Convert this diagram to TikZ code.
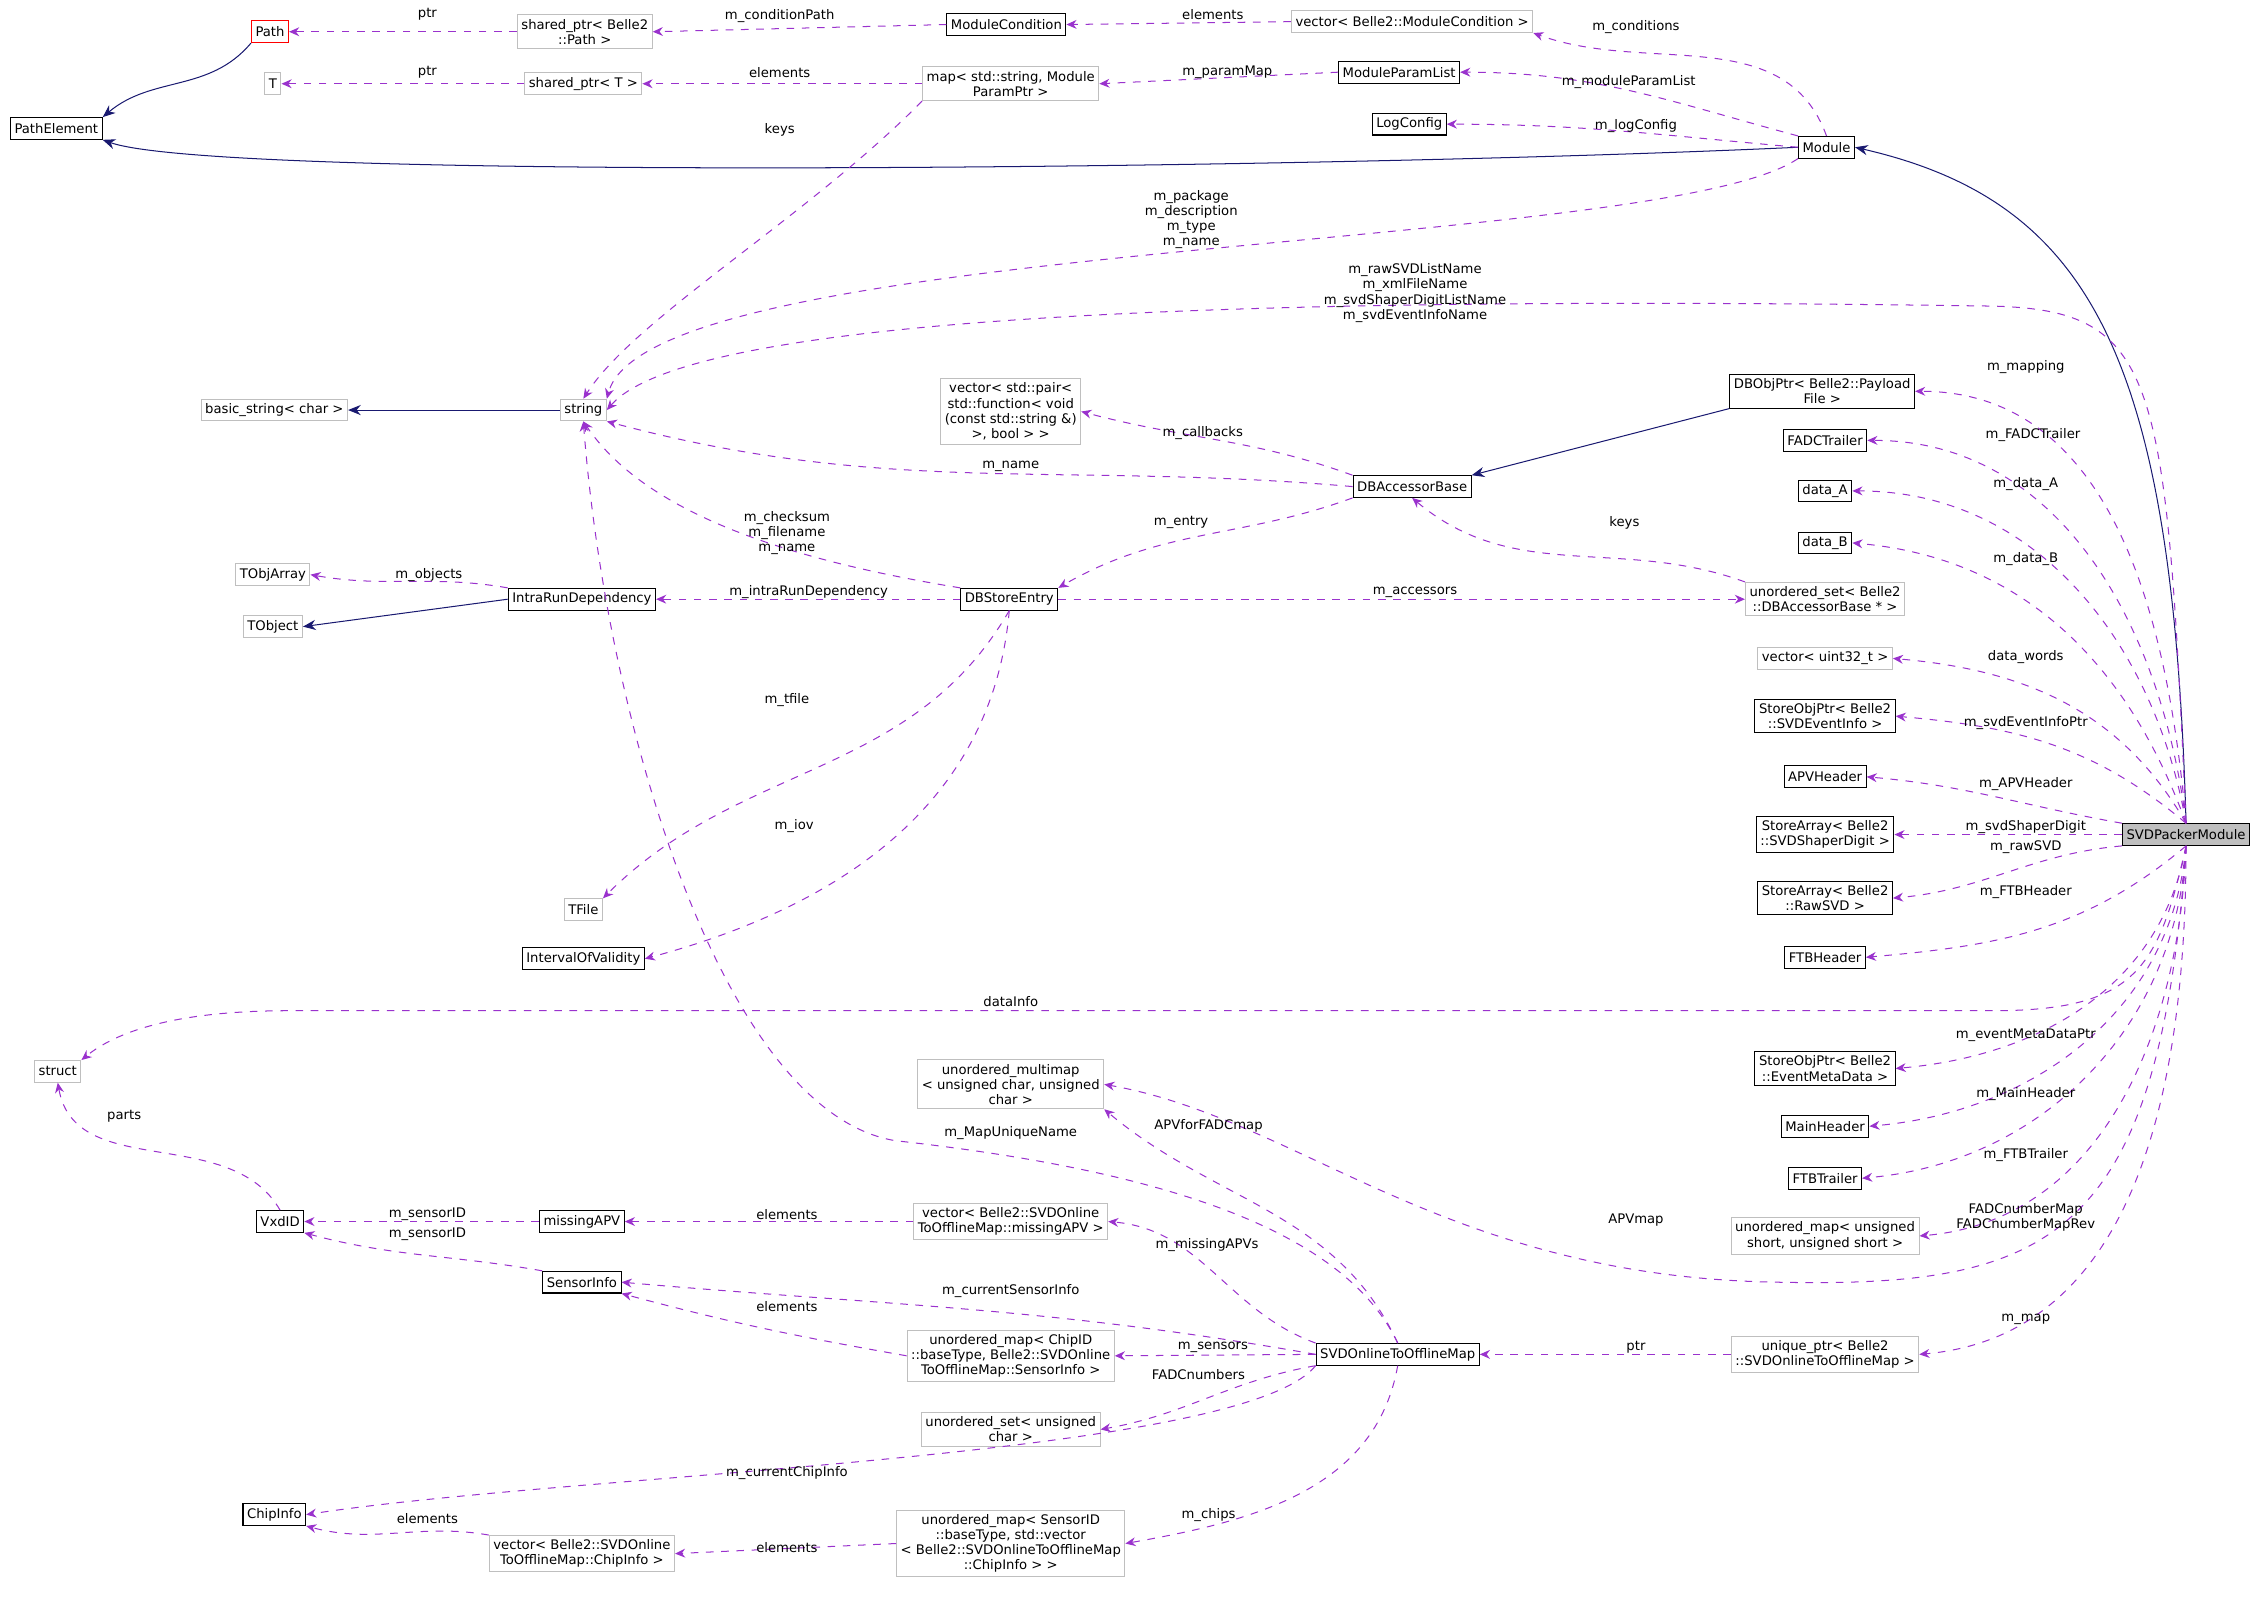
\documentclass[tikz,border=0pt]{standalone}
\usepackage{fontspec}
\setmainfont{DejaVu Sans}
\usetikzlibrary{arrows.meta}
\definecolor{usecol}{HTML}{9A32CD}
\definecolor{inhcol}{HTML}{191970}
\definecolor{undoc}{HTML}{BFBFBF}
\begin{document}
\begin{tikzpicture}[x=0.02cm,y=-0.02cm,font=\fontsize{5.2}{6}\selectfont]
% Styles
\tikzset{cls/.style={draw=black,thin,fill=white,inner sep=1.6pt,align=center,minimum height=0.3cm},
  ext/.style={cls,draw=undoc},
  red/.style={cls,draw=red},
  cur/.style={cls,fill=black!25},
  uses/.style={usecol,dashed,thin,-{Stealth[length=4pt,width=3.5pt]}},
  inh/.style={inhcol,thin,-{Stealth[length=5pt,width=4pt]}},
  lbl/.style={align=center,inner sep=0pt}}
\useasboundingbox (0,0) rectangle (1568,1111);
% Classes, left to right
\node[red] (Path) at (187,22) {Path};
\node[cls] (PathElement) at (39,89) {PathElement};
\node[ext] (T) at (189,58) {T};
\node[ext] (basicString) at (190,284) {basic\_string< char >};
\node[ext] (TObjArray) at (189,398) {TObjArray};
\node[ext] (TObject) at (189,434) {TObject};
\node[ext] (struct) at (40,742) {struct};
\node[cls] (VxdID) at (194,846) {VxdID};
\node[cls] (ChipInfo) at (190,1049) {ChipInfo};
\node[ext] (sharedPath) at (405,22) {shared\_ptr< Belle2\\::Path >};
\node[ext] (sharedT) at (404,58) {shared\_ptr< T >};
\node[ext] (string) at (404,284) {string};
\node[cls] (IntraRun) at (403,415) {IntraRunDependency};
\node[ext] (TFile) at (404,630) {TFile};
\node[cls] (IOV) at (404,664) {IntervalOfValidity};
\node[cls] (missingAPV) at (403,846) {missingAPV};
\node[cls] (SensorInfo) at (403,888) {SensorInfo};
\node[ext] (vecChip) at (403,1076) {vector< Belle2::SVDOnline\\ToOfflineMap::ChipInfo >};
\node[cls] (ModuleCondition) at (697,17) {ModuleCondition};
\node[ext] (paramMap) at (700,58) {map< std::string, Module\\ParamPtr >};
\node[ext] (vecPair) at (700,285) {vector< std::pair<\\std::function< void\\(const std::string \&)\\>, bool > >};
\node[cls] (DBStoreEntry) at (699,415) {DBStoreEntry};
\node[ext] (uMultimap) at (700,751) {unordered\_multimap\\< unsigned char, unsigned\\char >};
\node[ext] (vecMissing) at (700,846) {vector< Belle2::SVDOnline\\ToOfflineMap::missingAPV >};
\node[ext] (uMapChip) at (700,939) {unordered\_map< ChipID\\::baseType, Belle2::SVDOnline\\ToOfflineMap::SensorInfo >};
\node[ext] (uSetChar) at (700,990) {unordered\_set< unsigned\\char >};
\node[ext] (uMapSensor) at (700,1069) {unordered\_map< SensorID\\::baseType, std::vector\\< Belle2::SVDOnlineToOfflineMap\\::ChipInfo > >};
\node[ext] (vecModCond) at (978,15) {vector< Belle2::ModuleCondition >};
\node[cls] (ModuleParamList) at (969,50) {ModuleParamList};
\node[cls] (LogConfig) at (976,86) {LogConfig};
\node[cls] (DBAccessorBase) at (978,337) {DBAccessorBase};
\node[cls] (SVDOnline) at (968,938) {SVDOnlineToOfflineMap};
\node[cls] (Module) at (1265,102) {Module};
\node[cls] (DBObjPtr) at (1262,271) {DBObjPtr< Belle2::Payload\\File >};
\node[cls] (FADCTrailer) at (1264,305) {FADCTrailer};
\node[cls] (dataA) at (1264,340) {data\_A};
\node[cls] (dataB) at (1264,376) {data\_B};
\node[ext] (uSetAcc) at (1264,415) {unordered\_set< Belle2\\::DBAccessorBase * >};
\node[ext] (vecUint) at (1264,456) {vector< uint32\_t >};
\node[cls] (StoreObjSVD) at (1264,496) {StoreObjPtr< Belle2\\::SVDEventInfo >};
\node[cls] (APVHeader) at (1264,538) {APVHeader};
\node[cls] (StoreArrSSD) at (1264,578) {StoreArray< Belle2\\::SVDShaperDigit >};
\node[cls] (StoreArrRaw) at (1264,622) {StoreArray< Belle2\\::RawSVD >};
\node[cls] (FTBHeader) at (1264,663) {FTBHeader};
\node[cls] (StoreObjEMD) at (1264,740) {StoreObjPtr< Belle2\\::EventMetaData >};
\node[cls] (MainHeader) at (1264,780) {MainHeader};
\node[cls] (FTBTrailer) at (1264,816) {FTBTrailer};
\node[ext] (uMapShort) at (1264,856) {unordered\_map< unsigned\\short, unsigned short >};
\node[ext] (uniquePtr) at (1264,938) {unique\_ptr< Belle2\\::SVDOnlineToOfflineMap >};
\node[cls,cur] (SVDPacker) at (1514,578) {SVDPackerModule};
% Inheritance
\draw[inh] (Path.south west) to[out=-130,in=40] (PathElement.north east);
\draw[inh] (Module.west) .. controls (900,118) and (150,125) .. (PathElement.south east);
\draw[inh] (SVDPacker.north) .. controls (1505,250) and (1450,140) .. (Module.east);
\draw[inh] (string.west) -- (basicString.east);
\draw[inh] (DBObjPtr.south west) -- (DBAccessorBase.north east);
\draw[inh] (IntraRun.west) -- (TObject.east);
% Top rows
\draw[uses] (sharedPath.west) -- (Path.east);
\draw[uses] (ModuleCondition.west) -- (sharedPath.east);
\draw[uses] (vecModCond.west) -- (ModuleCondition.east);
\draw[uses] (Module.north) to[out=110,in=-20] (vecModCond.south east);
\draw[uses] (sharedT.west) -- (T.east);
\draw[uses] (paramMap.west) -- (sharedT.east);
\draw[uses] (ModuleParamList.west) -- (paramMap.east);
\draw[uses] (Module.north west) to[out=165,in=0] (ModuleParamList.east);
\draw[uses] (Module.west) to[out=175,in=0] (LogConfig.east);
\draw[uses] (paramMap.south west) .. controls (560,150) and (440,220) .. (string.north);
\draw[uses] (Module.south west) .. controls (1150,175) and (450,165) .. (string.north east);
\draw[uses] (SVDPacker.north) .. controls (1500,260) and (1495,215) .. (1380,212) .. controls (900,205) and (480,215) .. (string.east);
% DB classes
\draw[uses] (DBAccessorBase.north west) to[out=160,in=-15] (vecPair.east);
\draw[uses] (DBAccessorBase.west) to[out=175,in=-15] (string.south east);
\draw[uses] (DBAccessorBase.south west) to[out=-160,in=30] (DBStoreEntry.north east);
\draw[uses] (DBStoreEntry.north west) .. controls (560,390) and (450,360) .. (string.south);
\draw[uses] (IntraRun.north west) to[out=170,in=-10] (TObjArray.east);
\draw[uses] (DBStoreEntry.west) -- (IntraRun.east);
\draw[uses] (DBStoreEntry.east) -- (uSetAcc.west);
\draw[uses] (uSetAcc.north west) to[out=160,in=-40] (DBAccessorBase.south);
\draw[uses] (DBStoreEntry.south) to[out=-120,in=45] (TFile.north east);
\draw[uses] (DBStoreEntry.south) to[out=-95,in=15] (IOV.east);
% SVDPackerModule members
\draw[uses] (SVDPacker.north) to[out=95,in=0] (DBObjPtr.east);
\draw[uses] (SVDPacker.north) to[out=97,in=0] (FADCTrailer.east);
\draw[uses] (SVDPacker.north) to[out=100,in=0] (dataA.east);
\draw[uses] (SVDPacker.north) to[out=110,in=-5] (dataB.east);
\draw[uses] (SVDPacker.north) to[out=120,in=-5] (vecUint.east);
\draw[uses] (SVDPacker.north) to[out=140,in=-5] (StoreObjSVD.east);
\draw[uses] (SVDPacker.north west) to[out=170,in=-5] (APVHeader.east);
\draw[uses] (SVDPacker.west) -- (StoreArrSSD.east);
\draw[uses] (SVDPacker.south west) to[out=-175,in=5] (StoreArrRaw.east);
\draw[uses] (SVDPacker.south) to[out=-140,in=5] (FTBHeader.east);
\draw[uses] (SVDPacker.south) .. controls (1495,670) and (1480,700) .. (1380,700) -- (200,700) .. controls (120,700) and (80,715) .. (struct.north east);
\draw[uses] (SVDPacker.south) to[out=-100,in=5] (StoreObjEMD.east);
\draw[uses] (SVDPacker.south) to[out=-95,in=5] (MainHeader.east);
\draw[uses] (SVDPacker.south) to[out=-93,in=5] (FTBTrailer.east);
\draw[uses] (SVDPacker.south) to[out=-92,in=5] (uMapShort.east);
\draw[uses] (SVDPacker.south) .. controls (1495,860) and (1420,892) .. (1230,888) .. controls (1000,884) and (900,775) .. (uMultimap.east);
\draw[uses] (SVDPacker.south) to[out=-90,in=5] (uniquePtr.east);
% SVDOnlineToOfflineMap members
\draw[uses] (uniquePtr.west) -- (SVDOnline.east);
\draw[uses] (SVDOnline.north) .. controls (930,850) and (800,810) .. (620,790) .. controls (500,770) and (420,500) .. (string.south);
\draw[uses] (SVDOnline.north) to[out=115,in=-40] (uMultimap.south east);
\draw[uses] (SVDOnline.north west) to[out=160,in=-5] (vecMissing.east);
\draw[uses] (SVDOnline.west) to[out=170,in=-5] (SensorInfo.east);
\draw[uses] (SVDOnline.west) -- (uMapChip.east);
\draw[uses] (SVDOnline.south west) to[out=-170,in=10] (uSetChar.east);
\draw[uses] (SVDOnline.south west) .. controls (860,1010) and (400,1020) .. (ChipInfo.east);
\draw[uses] (SVDOnline.south) to[out=-100,in=10] (uMapSensor.east);
\draw[uses] (uMapChip.west) to[out=170,in=-15] (SensorInfo.south east);
\draw[uses] (vecMissing.west) -- (missingAPV.east);
\draw[uses] (missingAPV.west) -- (VxdID.east);
\draw[uses] (SensorInfo.north west) to[out=170,in=-15] (VxdID.south east);
\draw[uses] (VxdID.north) to[out=120,in=-80] (struct.south);
\draw[uses] (uMapSensor.west) -- (vecChip.east);
\draw[uses] (vecChip.north west) to[out=170,in=-15] (ChipInfo.south east);
% Edge labels
\node[lbl] at (296,10) {ptr};
\node[lbl] at (540,11) {m\_conditionPath};
\node[lbl] at (840,10) {elements};
\node[lbl] at (1133,19) {m\_conditions};
\node[lbl] at (296,50) {ptr};
\node[lbl] at (540,50) {elements};
\node[lbl] at (850,50) {m\_paramMap};
\node[lbl] at (1128,57) {m\_moduleParamList};
\node[lbl] at (1133,87) {m\_logConfig};
\node[lbl] at (540,90) {keys};
\node[lbl] at (825,152) {m\_package\\m\_description\\m\_type\\m\_name};
\node[lbl] at (980,203) {m\_rawSVDListName\\m\_xmlFileName\\m\_svdShaperDigitListName\\m\_svdEventInfoName};
\node[lbl] at (833,300) {m\_callbacks};
\node[lbl] at (700,323) {m\_name};
\node[lbl] at (818,362) {m\_entry};
\node[lbl] at (1125,362) {keys};
\node[lbl] at (545,369) {m\_checksum\\m\_filename\\m\_name};
\node[lbl] at (297,398) {m\_objects};
\node[lbl] at (560,410) {m\_intraRunDependency};
\node[lbl] at (980,410) {m\_accessors};
\node[lbl] at (545,485) {m\_tfile};
\node[lbl] at (550,572) {m\_iov};
\node[lbl] at (1403,254) {m\_mapping};
\node[lbl] at (1408,301) {m\_FADCTrailer};
\node[lbl] at (1403,335) {m\_data\_A};
\node[lbl] at (1403,387) {m\_data\_B};
\node[lbl] at (1403,455) {data\_words};
\node[lbl] at (1403,501) {m\_svdEventInfoPtr};
\node[lbl] at (1403,543) {m\_APVHeader};
\node[lbl] at (1403,573) {m\_svdShaperDigit};
\node[lbl] at (1403,587) {m\_rawSVD};
\node[lbl] at (1403,618) {m\_FTBHeader};
\node[lbl] at (700,694) {dataInfo};
\node[lbl] at (1403,717) {m\_eventMetaDataPtr};
\node[lbl] at (1403,758) {m\_MainHeader};
\node[lbl] at (1403,800) {m\_FTBTrailer};
\node[lbl] at (1403,843) {FADCnumberMap\\FADCnumberMapRev};
\node[lbl] at (1133,845) {APVmap};
\node[lbl] at (1403,914) {m\_map};
\node[lbl] at (1133,933) {ptr};
\node[lbl] at (86,773) {parts};
\node[lbl] at (837,780) {APVforFADCmap};
\node[lbl] at (700,785) {m\_MapUniqueName};
\node[lbl] at (296,841) {m\_sensorID};
\node[lbl] at (296,855) {m\_sensorID};
\node[lbl] at (545,841) {elements};
\node[lbl] at (836,862) {m\_missingAPVs};
\node[lbl] at (700,894) {m\_currentSensorInfo};
\node[lbl] at (545,905) {elements};
\node[lbl] at (840,933) {m\_sensors};
\node[lbl] at (830,952) {FADCnumbers};
\node[lbl] at (545,1020) {m\_currentChipInfo};
\node[lbl] at (296,1052) {elements};
\node[lbl] at (545,1072) {elements};
\node[lbl] at (837,1049) {m\_chips};
\end{tikzpicture}
\end{document}
